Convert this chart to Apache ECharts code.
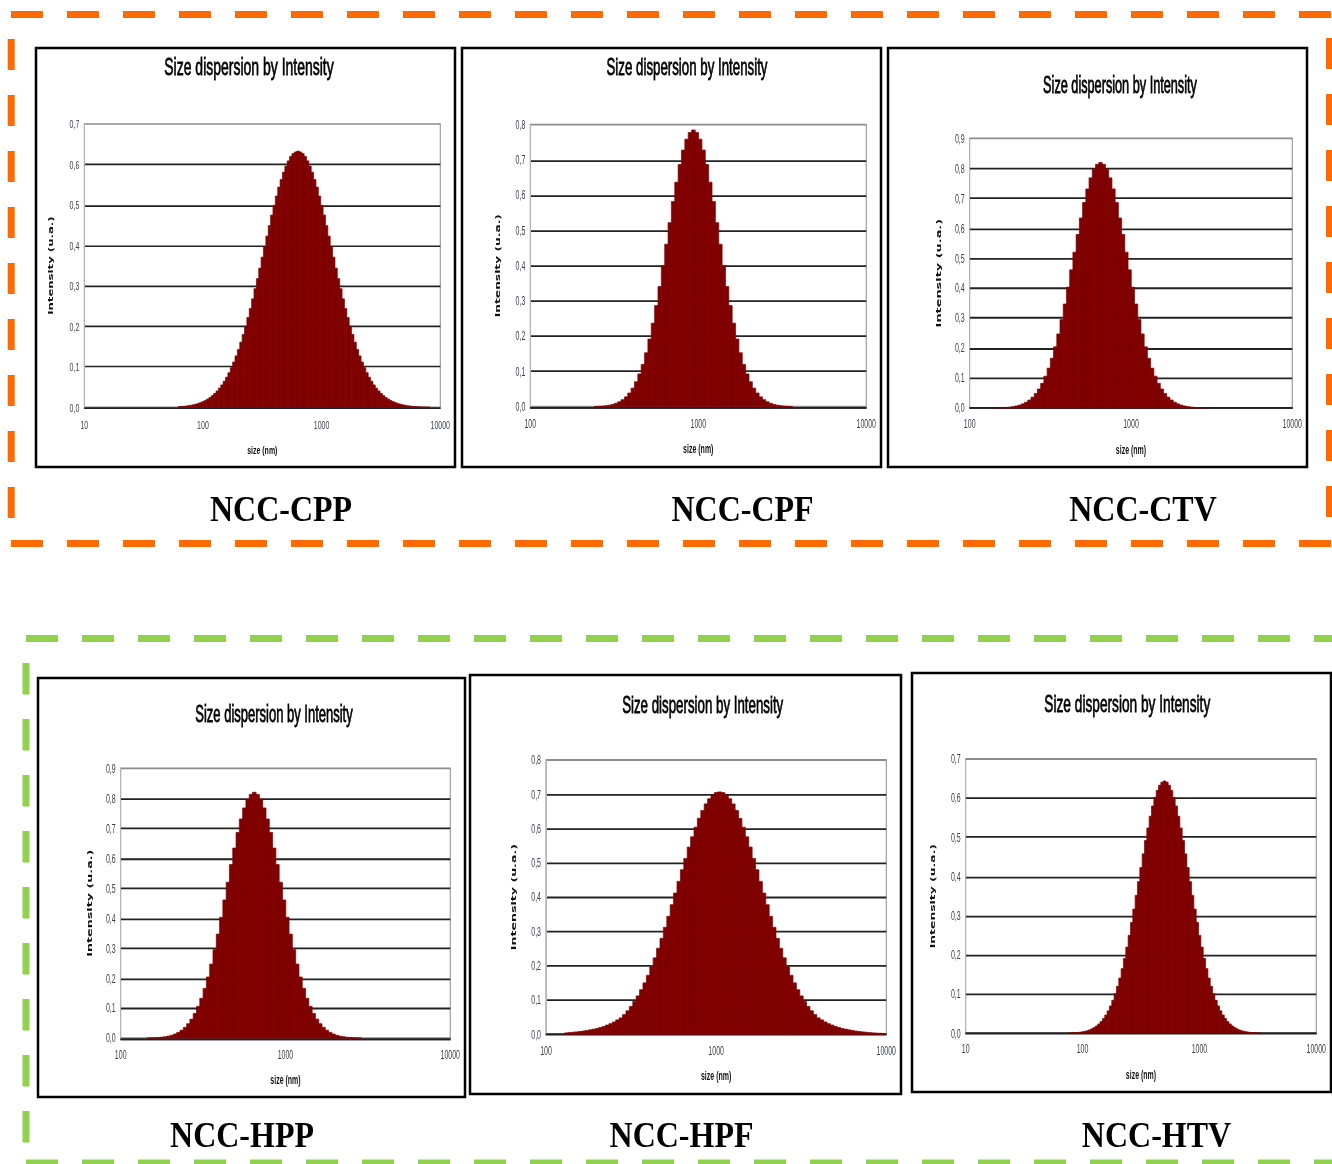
<!DOCTYPE html>
<html><head><meta charset="utf-8">
<script src="https://cdn.jsdelivr.net/npm/echarts@6/dist/echarts.min.js"></script>
<style>
html,body{margin:0;padding:0;background:#fff;overflow:hidden;}
#bg{position:absolute;left:0;top:0;width:1332px;height:1164px;}
.panel{position:absolute;transform-origin:0 0;}
</style></head><body>
<div id="bg"></div>
<div id="p1" class="panel"></div><div id="p2" class="panel"></div><div id="p3" class="panel"></div>
<div id="p4" class="panel"></div><div id="p5" class="panel"></div><div id="p6" class="panel"></div>
<script>
// ---------------- DATA ----------------
const sampleNames = ['NCC-CPP', 'NCC-CPF', 'NCC-CTV', 'NCC-HPP', 'NCC-HPF', 'NCC-HTV'];
const chartTitle = 'Size dispersion by Intensity';
const xAxisName = 'size (nm)';
const yAxisName = 'Intensity (u.a.)';
const BIN_LOG_WIDTH = 0.02;           // instrument bins: 50 per decade

// x-axis ranges (nm) and y-axis maxima for each panel
const xRanges = [[10, 10000], [100, 10000], [100, 10000], [100, 10000], [100, 10000], [10, 10000]];
const yMaxima = [0.7, 0.8, 0.9, 0.9, 0.8, 0.7];

// centre of the first non-empty bin (nm)
const firstBinNm = [63.1, 245.5, 147.9, 147.9, 131.8, 75.86];

const cppIntensity = [0.0016,0.0021,0.0026,0.0033,0.0041,0.0051,0.0063,0.0078,0.0095,0.0116,
0.0140,0.0169,0.0204,0.0244,0.0290,0.0343,0.0404,0.0474,0.0553,0.0643,
0.0743,0.0855,0.098,0.112,0.127,0.143,0.161,0.180,0.200,0.222,
0.244,0.268,0.293,0.318,0.344,0.371,0.397,0.423,0.449,0.475,
0.499,0.522,0.544,0.563,0.581,0.596,0.609,0.620,0.627,0.631,
0.633,
0.631,0.627,0.620,0.609,0.596,0.581,0.563,0.544,0.522,0.499,
0.475,0.449,0.423,0.397,0.371,0.344,0.318,0.293,0.268,0.244,
0.222,0.200,0.180,0.161,0.143,0.127,0.112,0.098,0.0855,0.0743,
0.0643,0.0553,0.0474,0.0404,0.0343,0.0290,0.0244,0.0204,0.0169,0.0140,
0.0116,0.0095,0.0078,0.0063,0.0051,0.0041,0.0033,0.0026,0.0021,0.0016,
0.0013,0.0010,0.0008,0.0006,0.0005];

const cpfIntensity = [0.0007,0.0011,0.0018,0.0028,0.0043,0.0065,0.0096,0.0139,0.0199,0.0280,
0.0388,0.0528,0.0707,0.0930,0.120,0.153,0.192,0.237,0.287,0.341,
0.400,0.461,0.522,0.582,0.637,0.687,0.728,0.759,0.778,
0.785,
0.778,0.759,0.728,0.687,0.637,0.582,0.522,0.461,0.400,0.341,
0.287,0.237,0.192,0.153,0.120,0.0930,0.0707,0.0528,0.0388,0.0280,
0.0199,0.0139,0.0096,0.0065,0.0043,0.0028,0.0018,0.0011,0.0007];

const ctvIntensity = [0.0006,0.0009,0.0014,0.0021,0.0032,0.0047,0.0068,0.0097,0.0138,0.0193,
0.0265,0.0359,0.0481,0.0633,0.0824,0.106,0.133,0.166,0.204,0.247,
0.295,0.347,0.403,0.461,0.520,0.579,0.634,0.686,0.731,0.768,
0.796,0.813,
0.819,
0.813,0.796,
0.768,0.731,0.686,0.634,0.579,0.520,0.461,0.403,0.347,0.295,
0.247,0.204,0.166,0.133,0.106,0.0824,0.0633,0.0481,0.0359,0.0265,
0.0193,0.0138,0.0097,0.0068,0.0047,0.0032,0.0021,0.0014,0.0009,0.0006];

const hppIntensity = [0.0006,0.0009,0.0014,0.0021,0.0032,0.0047,0.0068,0.0097,0.0138,0.0193,
0.0265,0.0359,0.0481,0.0633,0.0824,0.106,0.133,0.166,0.204,0.247,
0.295,0.347,0.403,0.461,0.520,0.579,0.634,0.686,0.731,0.768,
0.796,0.813,
0.820,
0.813,0.796,
0.768,0.731,0.686,0.634,0.579,0.520,0.461,0.403,0.347,0.295,
0.247,0.204,0.166,0.133,0.106,0.0824,0.0633,0.0481,0.0359,0.0265,
0.0193,0.0138,0.0097,0.0068,0.0047,0.0032,0.0021,0.0014,0.0009,0.0006];

const hpfIntensity = [0.0042,0.005,0.006,0.007,0.0082,0.0095,0.011,0.013,0.015,0.017,
0.020,0.023,0.027,0.031,0.036,0.042,0.0479,0.0575,0.0686,0.0813,
0.0957,0.112,0.130,0.150,0.172,0.197,0.223,0.251,0.280,0.312,
0.344,0.378,0.412,0.446,0.480,0.513,0.546,0.576,0.604,0.630,
0.653,0.672,0.687,0.698,0.705,
0.707,
0.705,0.698,0.687,0.672,0.653,0.630,0.604,0.576,0.546,0.513,
0.480,0.446,0.412,0.378,0.344,0.312,0.280,0.251,0.223,0.197,
0.172,0.150,0.130,0.112,0.0957,0.0813,0.0686,0.0575,0.0479,0.042,
0.036,0.031,0.027,0.023,0.020,0.017,0.015,0.013,0.011,0.0095,
0.0082,0.007,0.006,0.005,0.0042,0.0035,0.003,0.0025];

const htvIntensity = [0.0006,0.0008,0.0011,0.0015,0.0021,0.0028,0.0038,0.0050,0.0066,0.0087,
0.0114,0.0147,0.0188,0.0239,0.0301,0.0377,0.0466,0.0573,0.0698,0.0844,
0.101,0.120,0.141,0.165,0.191,0.220,0.250,0.283,0.317,0.352,
0.387,0.423,0.458,0.492,0.524,0.554,0.580,0.602,0.620,0.633,0.641,
0.644,
0.641,0.633,0.620,0.602,0.580,0.554,0.524,0.492,0.458,0.423,0.387,
0.352,0.317,0.283,0.250,0.220,0.191,0.165,0.141,0.120,0.101,
0.0844,0.0698,0.0573,0.0466,0.0377,0.0301,0.0239,0.0188,0.0147,0.0114,
0.0087,0.0066,0.0050,0.0038,0.0028,0.0021,0.0015,0.0011,0.0008,0.0006];

const intensities = [cppIntensity, cpfIntensity, ctvIntensity, hppIntensity, hpfIntensity, htvIntensity];

// ---------------- LAYOUT (screen px) ----------------
const layouts = [
  {div:{x:38,y:50,w:415,h:415}, plot:{l:84.3,r:442,t:124,b:407.3}, title:{cx:249,cy:68,fs:14}, xName:451, xLab:426, yName:50, sy:1.67},
  {div:{x:464,y:50,w:415,h:415}, plot:{l:530.3,r:871.3,t:124.7,b:406.7}, title:{cx:687,cy:68.7,fs:13.3}, xName:449.7, xLab:424.7, yName:497, sy:1.75},
  {div:{x:890,y:50,w:415,h:415}, plot:{l:969.7,r:1296.7,t:138.3,b:409.7}, title:{cx:1120,cy:85.3,fs:12.7}, xName:452, xLab:427, yName:938, sy:1.84},
  {div:{x:40,y:680,w:423,h:415}, plot:{l:120.7,r:454,t:768.3,b:1039.7}, title:{cx:274,cy:715.3,fs:13}, xName:1082, xLab:1057, yName:89, sy:1.82},
  {div:{x:472,y:677,w:427,h:415}, plot:{l:546,r:887,t:760,b:1034.3}, title:{cx:702.7,cy:705.7,fs:13.3}, xName:1076.7, xLab:1051.7, yName:512.7, sy:1.8},
  {div:{x:914,y:675,w:415,h:415}, plot:{l:965.7,r:1317.3,t:759,b:1033.3}, title:{cx:1127.3,cy:704.3,fs:13.7}, xName:1075.3, xLab:1050.3, yName:931.7, sy:1.77}
];
const frames = [[36,48,419,419],[462,48,419,419],[888,48,419,419],[38,678,427,419],[470,675,431,419],[912,673,419,419]];
const labelPos = [[281,511.5],[742.5,511.5],[1143,511.5],[242,1137.5],[681.5,1137.5],[1156.5,1137.5]];

const BAR_COLOR = '#800000';
const TICK_FONT = 7;

function bins(firstNm, values) {
  const l0 = Math.log10(firstNm);
  return values.map((v, i) => [Math.pow(10, l0 + (i - 0.5) * BIN_LOG_WIDTH), Math.pow(10, l0 + (i + 0.5) * BIN_LOG_WIDTH), v]);
}

function buildPanel(idx) {
  const g = layouts[idx];
  const el = document.getElementById('p' + (idx + 1));
  const H = g.div.h / g.sy;
  el.style.left = g.div.x + 'px'; el.style.top = g.div.y + 'px';
  el.style.width = g.div.w + 'px'; el.style.height = H + 'px';
  el.style.transform = 'scaleY(' + g.sy + ')';
  const chart = echarts.init(el, null, {renderer: 'svg', width: g.div.w, height: H});
  const gl = g.plot.l - g.div.x;
  const gr = g.div.w - (g.plot.r - g.div.x);
  const gt = (g.plot.t - g.div.y) / g.sy;
  const gbPix = (g.plot.b - g.div.y) / g.sy;
  const gb = H - gbPix;
  const labMargin = (g.xLab - g.plot.b) / g.sy - TICK_FONT * 0.6;
  const xNameGap = (g.xName - g.plot.b) / g.sy - 4;
  const yNameGap = (g.plot.l - g.yName) - 4;
  chart.setOption({
    animation: false,
    title: {
      text: chartTitle, left: g.title.cx - g.div.x, top: (g.title.cy - g.div.y) / g.sy - g.title.fs * 0.55,
      textAlign: 'center', padding: 0,
      textStyle: {fontFamily: 'Liberation Sans', fontSize: g.title.fs, fontWeight: 'normal', color: '#000',
        textBorderColor: '#000', textBorderWidth: 0.45}
    },
    grid: {left: gl, right: gr, top: gt, bottom: gb, show: true, borderColor: '#8c8c8c', borderWidth: 1, backgroundColor: 'transparent'},
    xAxis: {
      type: 'log', logBase: 10, min: xRanges[idx][0], max: xRanges[idx][1],
      name: xAxisName, nameLocation: 'middle', nameGap: xNameGap,
      nameTextStyle: {fontFamily: 'Liberation Sans', fontWeight: 'bold', fontSize: 7, color: '#111'},
      axisLine: {lineStyle: {color: '#222', width: 1}},
      axisTick: {show: false},
      axisLabel: {margin: labMargin, fontFamily: 'Liberation Sans', fontSize: TICK_FONT, color: '#3c3c4c',
        formatter: v => String(Math.round(v))},
      splitLine: {show: false}, minorTick: {show: false}, minorSplitLine: {show: false}
    },
    yAxis: {
      type: 'value', min: 0, max: yMaxima[idx], interval: 0.1,
      name: yAxisName, nameLocation: 'middle', nameGap: yNameGap,
      nameTextStyle: {fontFamily: 'DejaVu Sans', fontWeight: 'bold', fontSize: 7, color: '#111'},
      axisLine: {show: true, lineStyle: {color: '#b4b4b4', width: 1}},
      axisTick: {show: false},
      axisLabel: {margin: 5, fontFamily: 'Liberation Sans', fontSize: TICK_FONT, color: '#3c3c4c',
        formatter: v => v.toFixed(1).replace('.', ',')},
      splitLine: {show: true, showMaxLine: false, lineStyle: {color: '#222', width: 1}}
    },
    series: [{
      type: 'custom',
      data: bins(firstBinNm[idx], intensities[idx]),
      encode: {x: [0, 1], y: 2},
      renderItem: function (params, api) {
        const p0 = api.coord([api.value(0), api.value(2)]);
        const p1 = api.coord([api.value(1), 0]);
        return {type: 'rect', shape: {x: p0[0], y: p0[1], width: p1[0] - p0[0] + 0.3, height: p1[1] - p0[1]},
          style: {fill: BAR_COLOR, stroke: BAR_COLOR, lineWidth: 0.5}};
      }
    }]
  });
}

// ---------------- BACKGROUND: dashed boxes, frames, sample labels ----------------
const ORANGE = '#ff6a00', GREEN = '#92d050';
function dashLine(x1, y1, x2, y2, color, dash) {
  return {type: 'line', shape: {x1, y1, x2, y2}, style: {stroke: color, lineWidth: 7, lineDash: dash, lineCap: 'butt'}, silent: true};
}
const bgElements = [
  dashLine(11, 14.5, 1332, 14.5, ORANGE, [32, 24]),
  dashLine(11, 543.5, 1332, 543.5, ORANGE, [32, 24]),
  dashLine(11.2, 39, 11.2, 525, ORANGE, [31, 25]),
  dashLine(1329.5, 38, 1329.5, 525, ORANGE, [31, 25]),
  dashLine(26, 638.5, 1332, 638.5, GREEN, [32, 24]),
  dashLine(26, 663, 26, 1145, GREEN, [31.5, 24.5]),
  dashLine(26, 1163, 1332, 1163, GREEN, [32, 24])
];
frames.forEach(f => bgElements.push({type: 'rect', shape: {x: f[0], y: f[1], width: f[2], height: f[3]},
  style: {fill: '#fff', stroke: '#000', lineWidth: 2.5}, silent: true}));
sampleNames.forEach((n, i) => bgElements.push({type: 'text', x: labelPos[i][0], y: labelPos[i][1], scaleY: 1.12,
  style: {text: n, fontFamily: 'Liberation Serif', fontWeight: 'bold', fontSize: 32, fill: '#000',
    align: 'center', verticalAlign: 'middle', textAlign: 'center', textVerticalAlign: 'middle'}}));

const bg = echarts.init(document.getElementById('bg'), null, {renderer: 'canvas', width: 1332, height: 1164});
bg.setOption({animation: false, graphic: {elements: bgElements}});

for (let i = 0; i < 6; i++) buildPanel(i);
</script>
</body></html>
